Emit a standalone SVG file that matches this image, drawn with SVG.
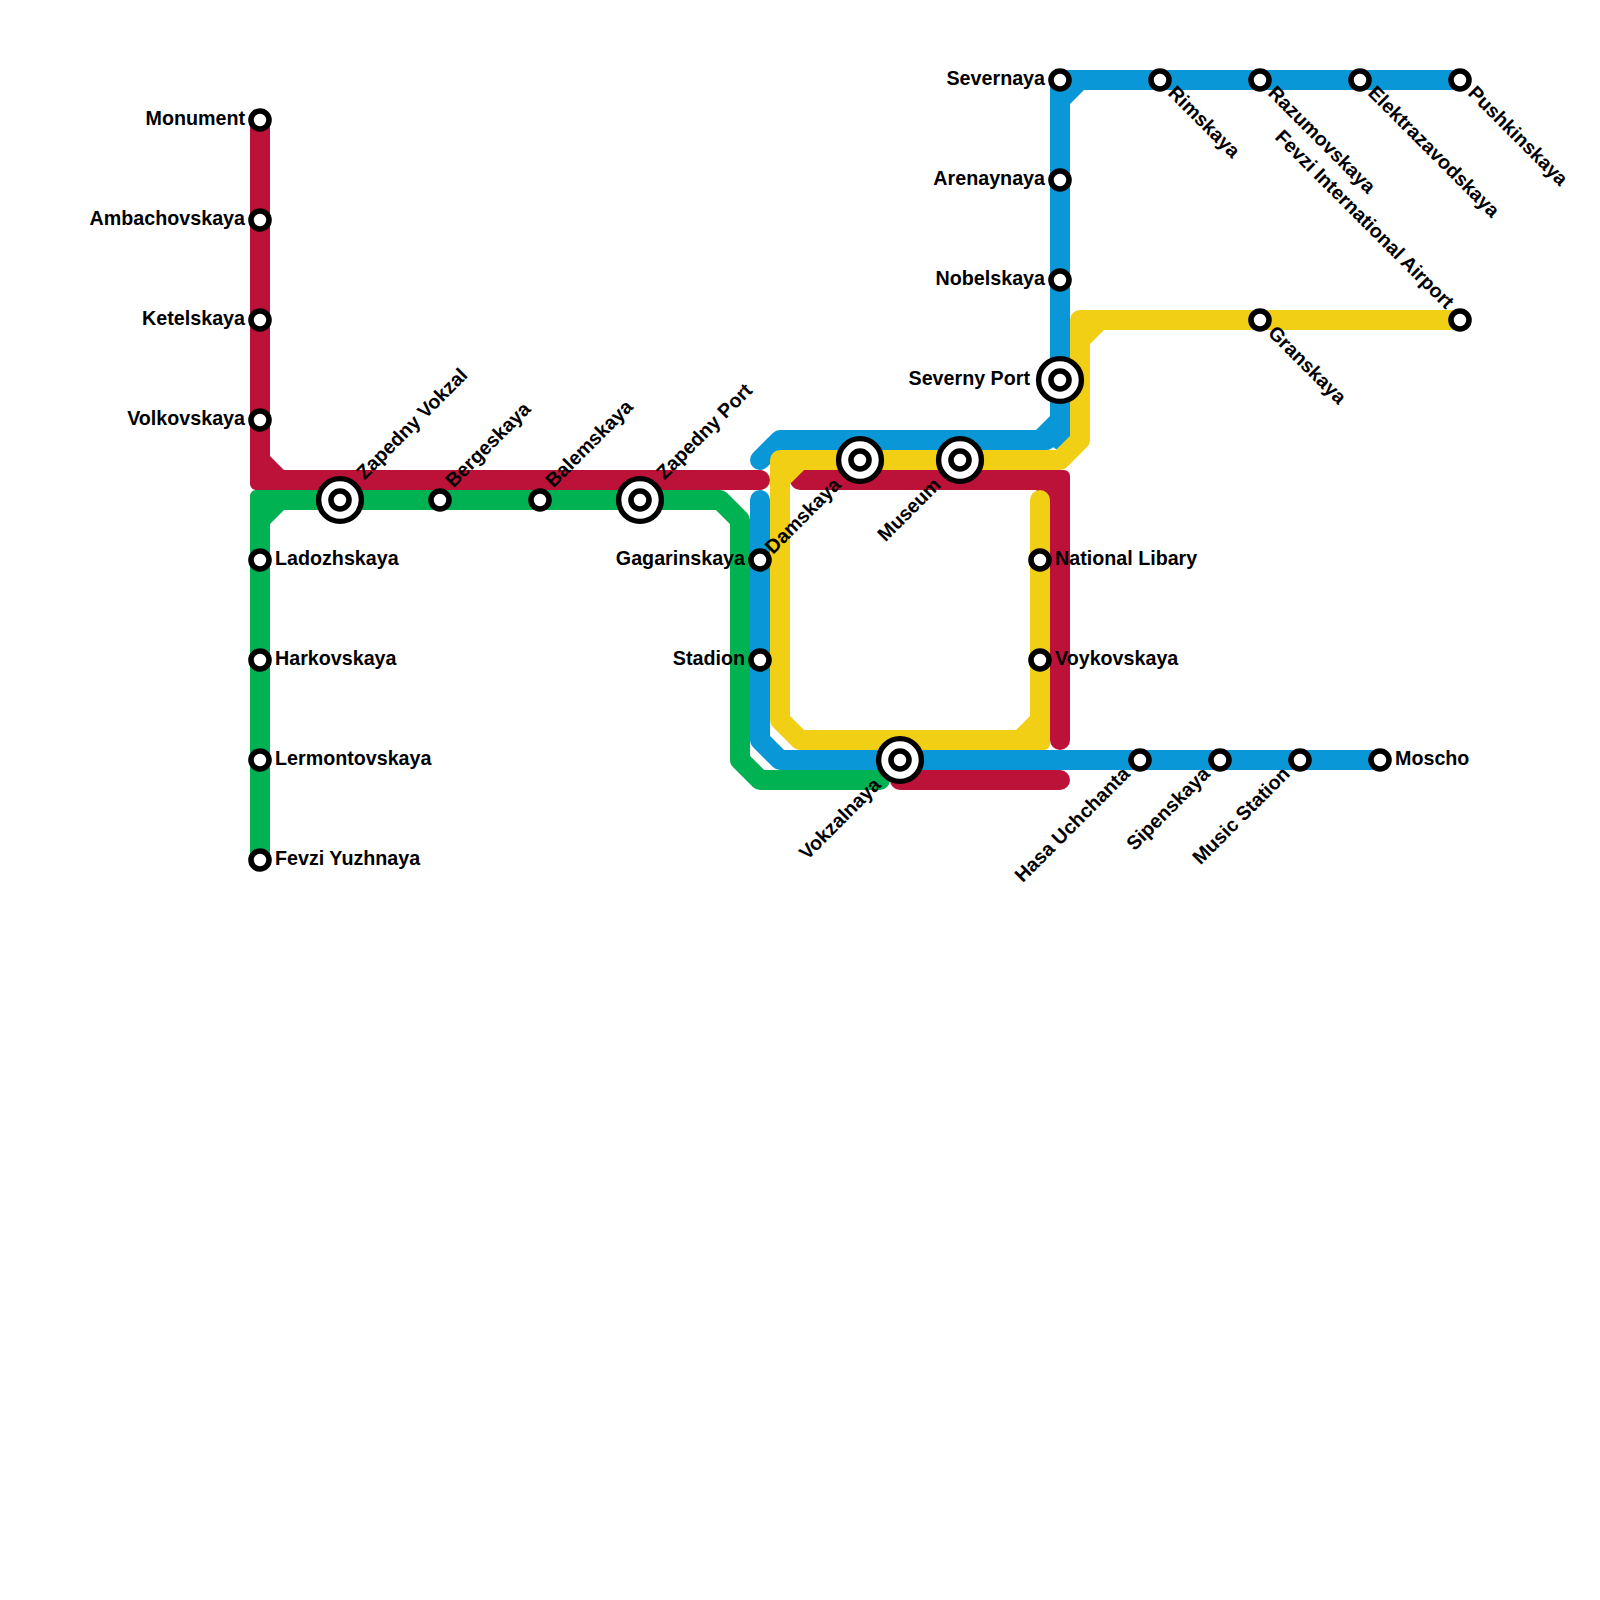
<svg xmlns="http://www.w3.org/2000/svg" width="1600" height="1600" viewBox="0 0 1600 1600">
<style>
.l{fill:none;stroke-width:20;stroke-linecap:round;stroke-linejoin:round}
.red{stroke:#bc1239}.blue{stroke:#0a97d8}.green{stroke:#00b251}.yellow{stroke:#f0cf14}
.fr{fill:#bc1239}.fb{fill:#0a97d8}.fg{fill:#00b251}.fy{fill:#f0cf14}
.s{fill:#fff;stroke:#000;stroke-width:5.6}
.o{fill:#fff;stroke:#000;stroke-width:5.4}
text{font-family:"Liberation Sans",Arial,sans-serif;font-weight:700;font-size:19.7px;fill:#000}
.e{text-anchor:end}
</style>
<defs>
<g id="st"><circle class="s" r="9"/></g>
<g id="bg"><circle class="o" r="21.4"/><circle class="s" r="9"/></g>
</defs>
<g id="connectors">
<path class="l green" d="M260 860V500H720L740 520V760L760 780H880"/>
<path class="fg" d="M250 500V496A6 6 0 0 1 256 490H270V510H284L270 524V510H250Z"/>
<path class="l blue" d="M1060 80V440"/>
<path class="l blue" d="M1460 80H1060V430L1046 440H780L760 460"/>
<path class="fb" d="M1050 416V430H1036ZM1070 104V90H1084Z"/>
<path class="l blue" d="M760 500V740L780 760H1380"/>
<path class="l red" d="M260 120V480H760"/>
<path class="fr" d="M250 470V484A6 6 0 0 0 256 490H270V470ZM270 456V470H284Z"/>
<path class="l red" d="M800 480H1060V740"/>
<path class="fr" d="M1050 470H1064A6 6 0 0 1 1070 476V490H1050ZM1036 490H1050V504Z"/>
<path class="l red" d="M900 780H1060"/>
<path class="l yellow" d="M1460 320H1080V440L1060 460H780V720L800 740H1040V500"/>
<path class="fy" d="M1090 344V330H1104ZM790 484V470H804ZM1030 716V730H1016ZM1030 730H1050V744A6 6 0 0 1 1044 750H1030Z"/>
</g>
<g id="n-monument"><use href="#st" x="260" y="120"/><text class="e" x="245" y="125">Monument</text></g>
<g id="n-ambachovskaya"><use href="#st" x="260" y="220"/><text class="e" x="245" y="225">Ambachovskaya</text></g>
<g id="n-ketelskaya"><use href="#st" x="260" y="320"/><text class="e" x="245" y="325">Ketelskaya</text></g>
<g id="n-volkovskaya"><use href="#st" x="260" y="420"/><text class="e" x="245" y="425">Volkovskaya</text></g>
<g id="n-ladozhskaya"><use href="#st" x="260" y="560"/><text x="275" y="565">Ladozhskaya</text></g>
<g id="n-harkovskaya"><use href="#st" x="260" y="660"/><text x="275" y="665">Harkovskaya</text></g>
<g id="n-lermontovskaya"><use href="#st" x="260" y="760"/><text x="275" y="765">Lermontovskaya</text></g>
<g id="n-fevzi-yuzhnaya"><use href="#st" x="260" y="860"/><text x="275" y="865">Fevzi Yuzhnaya</text></g>
<g id="n-zapedny-vokzal"><use href="#bg" x="340" y="500"/><text transform="translate(364.5 480.5) rotate(-45)">Zapedny Vokzal</text></g>
<g id="n-bergeskaya"><use href="#st" x="440" y="500"/><text transform="translate(453.5 488.5) rotate(-45)">Bergeskaya</text></g>
<g id="n-balemskaya"><use href="#st" x="540" y="500"/><text transform="translate(553.5 488.5) rotate(-45)">Balemskaya</text></g>
<g id="n-zapedny-port"><use href="#bg" x="640" y="500"/><text transform="translate(664.5 480.5) rotate(-45)">Zapedny Port</text></g>
<g id="n-gagarinskaya"><use href="#st" x="760" y="560"/><text class="e" x="745" y="565">Gagarinskaya</text></g>
<g id="n-stadion"><use href="#st" x="760" y="660"/><text class="e" x="745" y="665">Stadion</text></g>
<g id="n-damskaya"><use href="#bg" x="860" y="460"/><text class="e" transform="translate(842 486) rotate(-45)">Damskaya</text></g>
<g id="n-museum"><use href="#bg" x="960" y="460"/><text class="e" transform="translate(942 486) rotate(-45)">Museum</text></g>
<g id="n-vokzalnaya"><use href="#bg" x="900" y="760"/><text class="e" transform="translate(882 786) rotate(-45)">Vokzalnaya</text></g>
<g id="n-severnaya"><use href="#st" x="1060" y="80"/><text class="e" x="1045" y="85">Severnaya</text></g>
<g id="n-arenaynaya"><use href="#st" x="1060" y="180"/><text class="e" x="1045" y="185">Arenaynaya</text></g>
<g id="n-nobelskaya"><use href="#st" x="1060" y="280"/><text class="e" x="1045" y="285">Nobelskaya</text></g>
<g id="n-severny-port"><use href="#bg" x="1060" y="380"/><text class="e" x="1030" y="385">Severny Port</text></g>
<g id="n-national-libary"><use href="#st" x="1040" y="560"/><text x="1055" y="565">National Libary</text></g>
<g id="n-voykovskaya"><use href="#st" x="1040" y="660"/><text x="1055" y="665">Voykovskaya</text></g>
<g id="n-rimskaya"><use href="#st" x="1160" y="80"/><text transform="translate(1167 94) rotate(45)">Rimskaya</text></g>
<g id="n-razumovskaya"><use href="#st" x="1260" y="80"/><text transform="translate(1267 94) rotate(45)">Razumovskaya</text></g>
<g id="n-elektrazavodskaya"><use href="#st" x="1360" y="80"/><text transform="translate(1367 94) rotate(45)">Elektrazavodskaya</text></g>
<g id="n-pushkinskaya"><use href="#st" x="1460" y="80"/><text transform="translate(1467 94) rotate(45)">Pushkinskaya</text></g>
<g id="n-granskaya"><use href="#st" x="1260" y="320"/><text transform="translate(1267 334) rotate(45)">Granskaya</text></g>
<g id="n-fevzi-airport"><use href="#st" x="1460" y="320"/><text class="e" transform="translate(1446 310) rotate(45)">Fevzi International Airport</text></g>
<g id="n-hasa-uchchanta"><use href="#st" x="1140" y="760"/><text class="e" transform="translate(1131 775) rotate(-45)">Hasa Uchchanta</text></g>
<g id="n-sipenskaya"><use href="#st" x="1220" y="760"/><text class="e" transform="translate(1211 775) rotate(-45)">Sipenskaya</text></g>
<g id="n-music-station"><use href="#st" x="1300" y="760"/><text class="e" transform="translate(1291 775) rotate(-45)">Music Station</text></g>
<g id="n-moscho"><use href="#st" x="1380" y="760"/><text x="1395" y="765">Moscho</text></g>
</svg>
